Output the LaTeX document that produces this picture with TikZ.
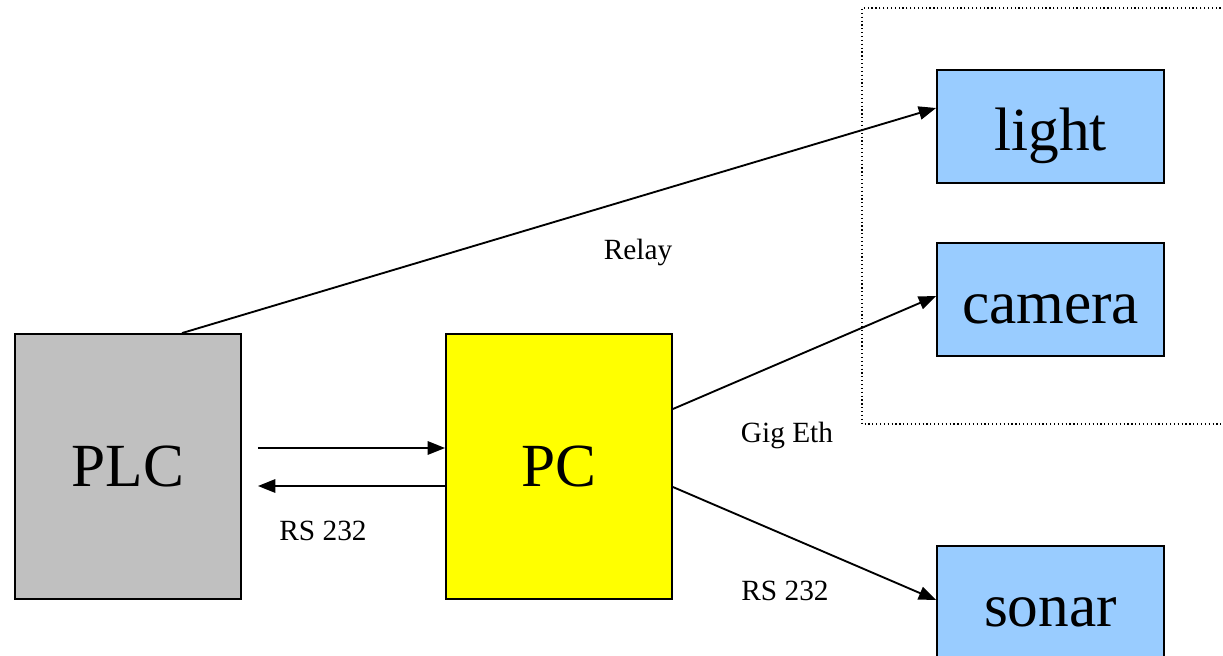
\documentclass[tikz,border=0pt]{standalone}
\usepackage{fontspec}
\setmainfont{Liberation Serif}
\usetikzlibrary{arrows.meta,calc}
\definecolor{plcgray}{HTML}{C0C0C0}
\definecolor{devblue}{HTML}{99CCFF}
\definecolor{pcyellow}{HTML}{FFFF00}
\begin{document}
\begin{tikzpicture}[x=0.75pt,y=-0.75pt,
  box/.style={draw=black,line width=1.4pt,inner sep=0pt,font=\fontsize{46}{50}\selectfont},
  bigbox/.style={box,minimum width=169.5pt,minimum height=198.75pt},
  devbox/.style={box,fill=devblue,minimum width=170.25pt,minimum height=84.75pt,text height=36pt,text depth=0pt},
  lbl/.style={font=\fontsize{22}{24}\selectfont,inner sep=0pt,anchor=base},
  conn/.style={line width=1.4pt,-{Triangle[length=13pt,width=10pt]}}]
\useasboundingbox (0,0) rectangle (1223,656);
\begin{scope}
\clip (0,0) rectangle (1223,656);
\draw[dotted,line width=0.9pt] (1240,8) -- (862,8) -- (862,424) -- (1240,424);
\node[bigbox,fill=plcgray] (plc) at (128,466.5) {PLC};
\node[bigbox,fill=pcyellow] (pc) at (559,466.5) {PC};
\node[devbox] (light) at (1050.5,126.5) {light};
\node[devbox] (camera) at (1050.5,299.5) {camera};
\node[devbox] (sonar) at (1050.5,602.5) {sonar};
\draw[conn] ($(plc.north)+(54,0)$) -- ($(light.west)+(0,-18.5)$);
\draw[conn] ($(plc.east)+(16,-18.5)$) -- ($(pc.west)+(0,-18.5)$);
\draw[conn] ($(pc.west)+(0,19.5)$) -- ($(plc.east)+(16,19.5)$);
\draw[conn] ($(pc.east)+(0,-57.5)$) -- ($(camera.west)+(0,-3.5)$);
\draw[conn] ($(pc.east)+(0,20.5)$) -- ($(sonar.west)+(0,-2.5)$);
\node[lbl] (relay) at (638,259) {Relay};
\node[lbl] (gig) at (787,442) {Gig Eth};
\node[lbl] (rsa) at (323,540) {RS 232};
\node[lbl] (rsb) at (785,600) {RS 232};
\end{scope}
\end{tikzpicture}
\end{document}
